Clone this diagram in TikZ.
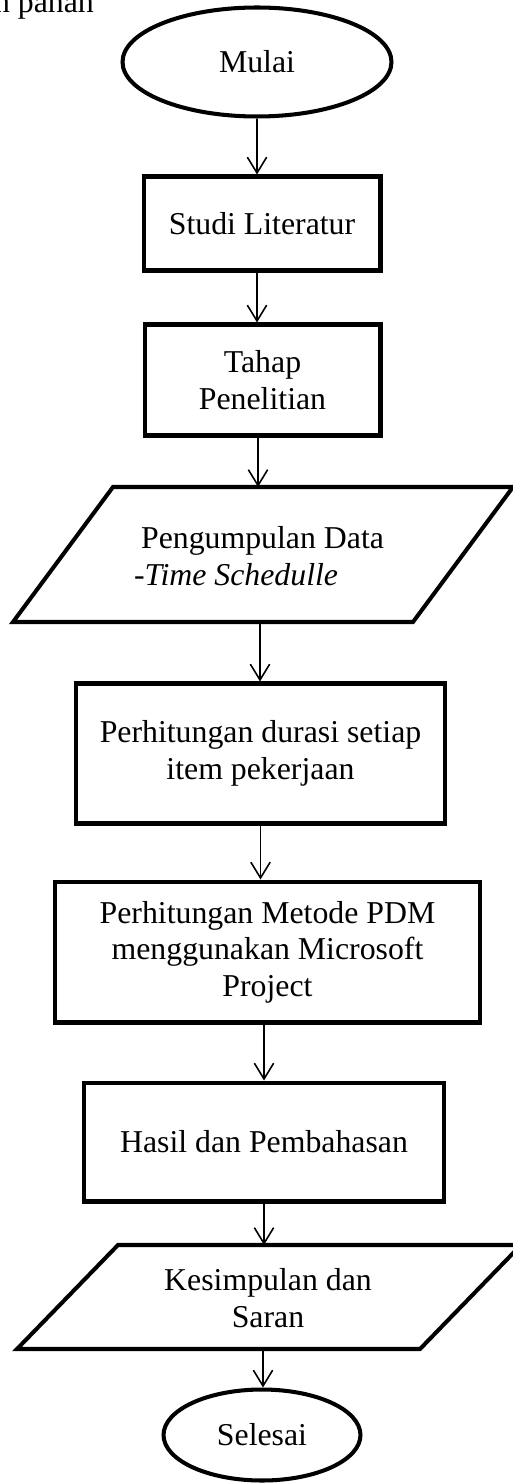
\documentclass[tikz,border=0pt]{standalone}
\usepackage{fontspec}
\setmainfont{Liberation Serif}
\usetikzlibrary{shapes.geometric,arrows.meta}

\tikzset{
  huruf/.style={font=\fontsize{18.1}{20.8}\selectfont},
  terminal/.style={ellipse, draw, line width=2.3pt, inner sep=0pt, huruf},
  proses/.style={rectangle, draw, line width=2.3pt, align=center, inner sep=0pt, huruf},
  garisio/.style={line width=2.3pt, line join=miter},
  panah/.style={-{Straight Barb[length=9pt,width=11pt]}, line width=0.9pt},
}

\begin{document}
\begin{tikzpicture}[x=0.02cm, y=-0.02cm]
\useasboundingbox (0,0) rectangle (512,1483);
\node[huruf, anchor=base east] (catatan) at (100,13) {dan panah};

\node[terminal, minimum width=5.38cm, minimum height=2.18cm] (mulai) at (257,62) {Mulai};
\node[proses, minimum width=4.74cm, minimum height=1.88cm] (studi) at (262,223.5) {Studi Literatur};
\node[proses, minimum width=4.72cm, minimum height=2.22cm] (tahap) at (262.5,380) {Tahap\\Penelitian};

% input data (jajaran genjang)
\draw[garisio] (113,487) -- (513,487) -- (413,622) -- (13,622) -- cycle;
\node[huruf, align=left] (data) at (259,556) {\hspace*{4pt}Pengumpulan Data\\-\textit{Time Schedulle}};
\coordinate (dataAtas) at (258,487);
\coordinate (dataBawah) at (260,622);

\node[proses, minimum width=7.40cm, minimum height=2.80cm] (durasi) at (260.5,753.5) {Perhitungan durasi setiap\\item pekerjaan};
\node[proses, minimum width=8.52cm, minimum height=2.82cm] (pdm) at (267.5,952) {Perhitungan Metode PDM\\menggunakan Microsoft\\Project};
\node[proses, minimum width=7.22cm, minimum height=2.38cm] (hasil) at (264,1142) {Hasil dan Pembahasan};

% output
\draw[garisio] (118,1245) -- (521,1245) -- (420,1349) -- (17,1349) -- cycle;
\node[huruf, align=center] (simpulan) at (268,1298) {Kesimpulan dan\\Saran};
\coordinate (simpulanAtas) at (264,1245);
\coordinate (simpulanBawah) at (263,1349);

\node[terminal, minimum width=3.94cm, minimum height=1.82cm] (selesai) at (262,1435) {Selesai};

% panah alur
\draw[panah] (mulai.south) -- (mulai.south |- studi.north);
\draw[panah] (studi.south -| mulai.south) -- (tahap.north -| mulai.south);
\draw[panah] (tahap.south -| dataAtas) -- (dataAtas);
\draw[panah] (dataBawah) -- (dataBawah |- durasi.north);
\draw[panah] (durasi.south) -- (durasi.south |- pdm.north);
\draw[panah] (pdm.south -| hasil.north) -- (hasil.north);
\draw[panah] (hasil.south) -- (hasil.south |- simpulanAtas);
\draw[panah] (simpulanBawah) -- (simpulanBawah |- selesai.north);
\end{tikzpicture}
\end{document}
